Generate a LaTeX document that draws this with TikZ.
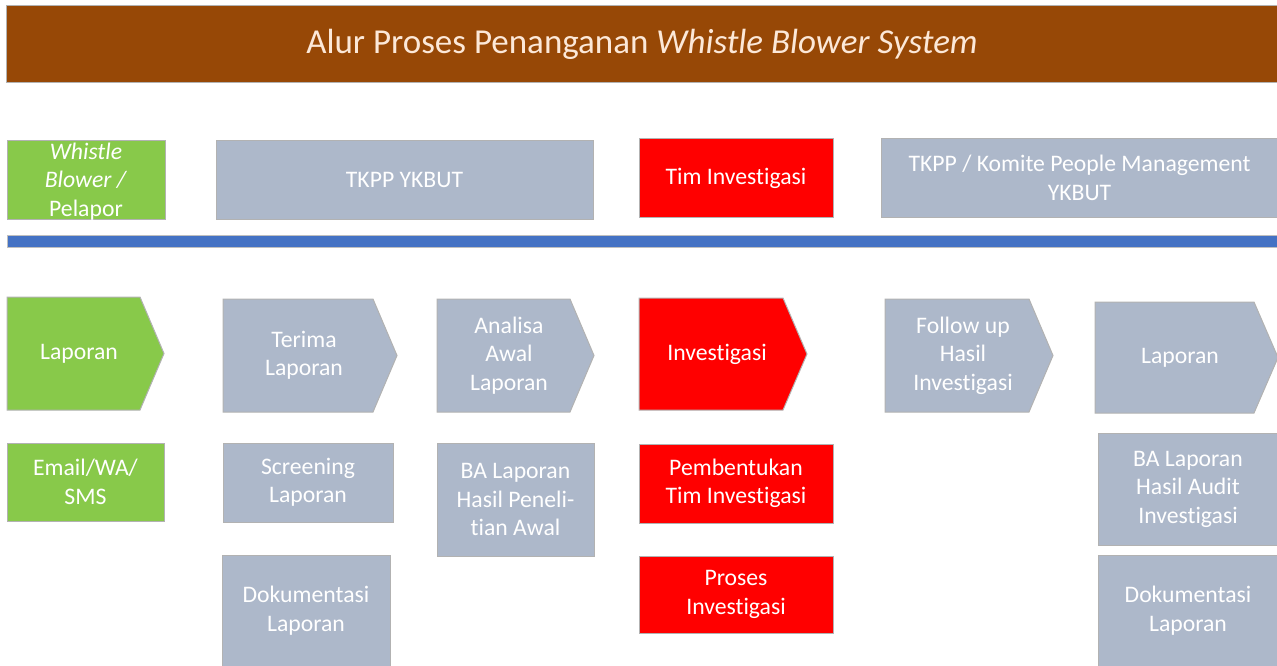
\documentclass[tikz,border=0pt]{standalone}
\usepackage{fontspec}
\setmainfont{Carlito}[Ligatures=NoCommon]
\usepackage{tikz}
\usetikzlibrary{calc}
\definecolor{wbbrown}{HTML}{974806}
\definecolor{wbcream}{HTML}{FCE8D8}
\definecolor{wbgreen}{HTML}{88C94A}
\definecolor{wbgray}{HTML}{ADB8CA}
\definecolor{wbred}{HTML}{FF0000}
\definecolor{wbblue}{HTML}{4472C4}
\newcommand{\wbfont}{\fontsize{23.7}{28.5}\selectfont}
\newcommand{\ptip}{24}
\tikzset{
lbl/.style={text=white,align=center,font=\wbfont},
box/.style={lbl,draw=black!30,line width=1pt,inner sep=0pt}
}

\begin{document}
\begin{tikzpicture}[x=1pt,y=-1pt]
\useasboundingbox (0,0) rectangle (1277,666);
\node[fill=wbbrown,draw=black!30,line width=1pt,minimum width=1272pt,minimum height=77pt,text=wbcream,font=\fontsize{35}{40}\selectfont] (title) at (642,44.5) {Alur Proses Penanganan \textit{Whistle Blower System}};
\filldraw[fill=wbblue,draw=black!25,line width=1pt] (7,235) rectangle (1278,247);
\node[box,fill=wbgreen,minimum width=158pt,minimum height=78pt] (wb) at (86,180) {};
\node[lbl] (wbtext) at (86,181.5) {\textit{Whistle}\\\textit{Blower /}\\Pelapor};
\node[box,fill=wbgray,minimum width=377pt,minimum height=78pt] (tkpp) at (404.5,180) {TKPP YKBUT};
\node[box,fill=wbred,minimum width=194pt,minimum height=79pt] (tim) at (736,178) {Tim Investigasi};
\node[box,fill=wbgray,minimum width=397pt,minimum height=78pt] (komite) at (1079.5,178) {TKPP / Komite People Management\\YKBUT};
\foreach \xa/\xb/\ya/\yb/\c in {7/164/297/410/wbgreen,223/397/299/412/wbgray,437/594/299/412/wbgray,639/807/298/410/wbred,885/1053/299/412/wbgray,1095/1278/302/413/wbgray}{
\filldraw[fill=\c,draw=black!30,line width=1pt] (\xa,\ya) -- (\xb-\ptip,\ya) -- (\xb,{(\ya+\yb)/2}) -- (\xb-\ptip,\yb) -- (\xa,\yb) -- cycle;
}
\node[lbl] (lapor) at (79,353.5) {Laporan};
\node[lbl] (terima) at (304,355.5) {Terima\\Laporan};
\node[lbl] (analisa) at (509,355.5) {Analisa\\Awal\\Laporan};
\node[lbl] (invest) at (717,354) {Investigasi};
\node[lbl] (follow) at (963,355.5) {Follow up\\Hasil\\Investigasi};
\node[lbl] (laporan) at (1180,357.5) {Laporan};
\node[box,fill=wbgreen,minimum width=157pt,minimum height=78pt] (email) at (85.5,482) {Email/WA/\\SMS};
\node[box,fill=wbgray,minimum width=170pt,minimum height=79pt] (screen) at (308,482.5) {Screening\\Laporan};
\node[box,fill=wbgray,minimum width=157pt,minimum height=113pt] (baawal) at (515.5,499.5) {BA Laporan\\Hasil Peneli-\\tian Awal};
\node[box,fill=wbred,minimum width=194pt,minimum height=79pt] (bentuk) at (736,483.5) {Pembentukan\\Tim Investigasi};
\node[box,fill=wbgray,minimum width=180pt,minimum height=112pt] (baaudit) at (1188,489) {BA Laporan\\Hasil Audit\\Investigasi};
\node[box,fill=wbgray,minimum width=168pt,minimum height=111pt] (dok) at (306,610.5) {Dokumentasi\\Laporan};
\node[box,fill=wbred,minimum width=194pt,minimum height=77pt] (proses) at (736,594.5) {Proses\\Investigasi};
\node[box,fill=wbgray,minimum width=180pt,minimum height=111pt] (dokakhir) at (1188,610.5) {Dokumentasi\\Laporan};
\end{tikzpicture}
\end{document}
